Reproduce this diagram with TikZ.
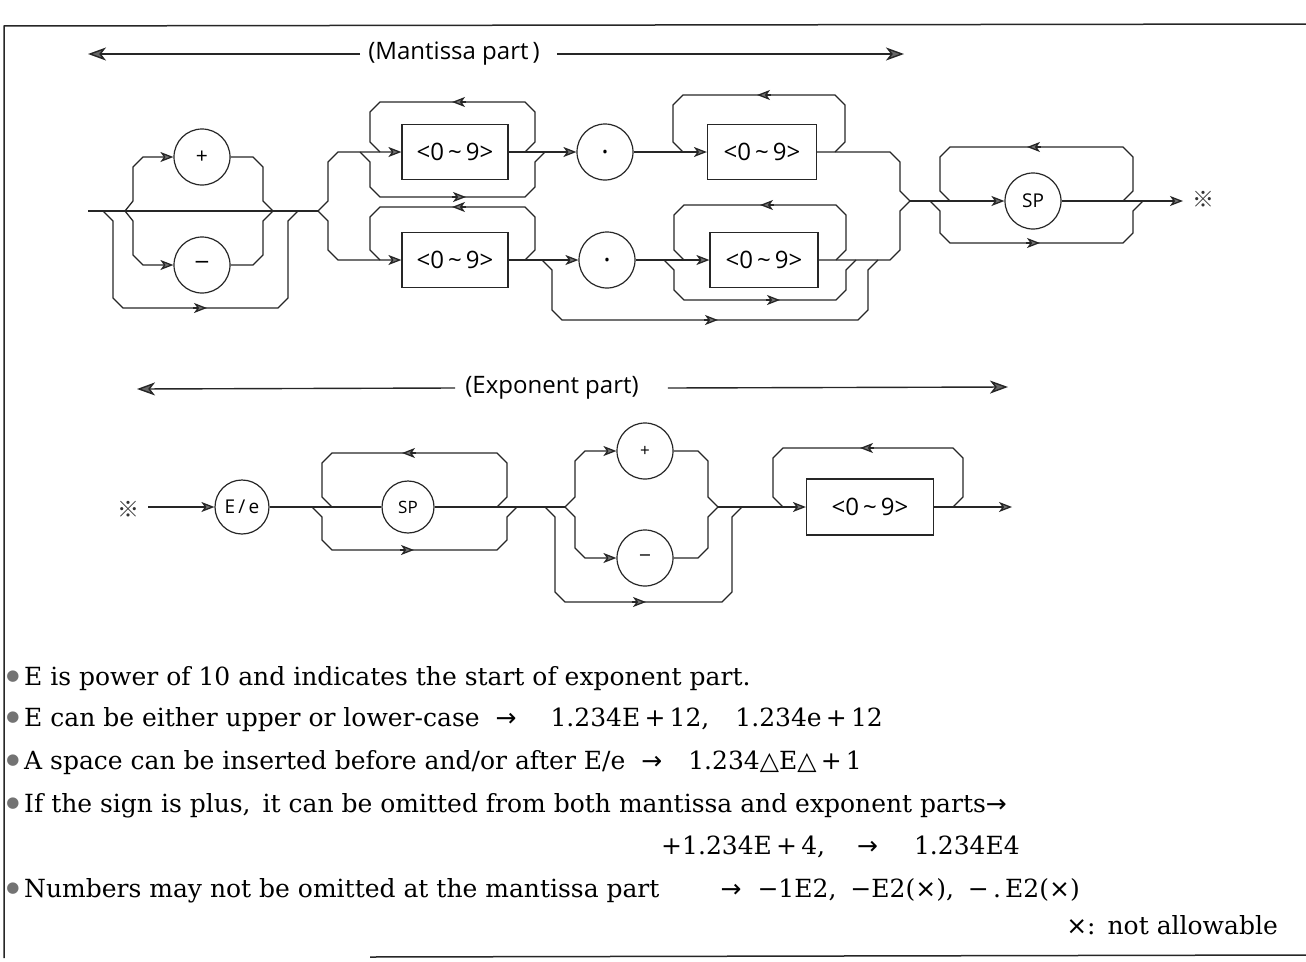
\documentclass[tikz,border=0pt]{standalone}
\usepackage{fontspec}
\setmainfont{DejaVu Serif}
\newfontfamily\diagfont{Open Sans}
\newfontfamily\symfont{DejaVu Sans}
\newfontfamily\cjkfont{Noto Sans CJK JP}
\usetikzlibrary{arrows.meta}
\newcommand\midR[2]{\draw[ar] (#1-14,#2) -- (#1,#2);}
\newcommand\midL[2]{\draw[ar] (#1+14,#2) -- (#1,#2);}
\begin{document}
\begin{tikzpicture}[x=1pt,y=-1pt,
  rr/.style={draw=black!85,line width=1.3pt},
  ar/.style={rr,-{Stealth[length=13pt,width=10pt,inset=3.5pt,fill=black!55]}},
  har/.style={draw=black!85,line width=1.4pt,-{Stealth[length=18pt,width=13pt,inset=5pt,fill=black!60]}},
  circ/.style={circle,draw=black!85,line width=1.2pt,inner sep=0pt,minimum size=#1},
  circ/.default=56pt,
  dbox/.style={draw=black!85,line width=1.2pt,inner sep=0pt,minimum height=55pt,minimum width=#1,font=\diagfont\fontsize{24}{24}\selectfont},
  hdr/.style={inner sep=0pt,font=\diagfont\fontsize{24}{24}\selectfont},
  lbl/.style={font=\diagfont\fontsize{#1}{#1}\selectfont},
  txt/.style={anchor=base west,inner sep=0pt,font=\fontsize{25}{30}\selectfont},
  bul/.style={anchor=center,inner sep=0pt,text=black!55,font=\symfont\fontsize{15}{15}\selectfont},
  refm/.style={inner sep=0pt,text=black!80,font=\cjkfont\fontsize{22}{22}\selectfont},
  frame/.style={draw=black!85,line width=1.5pt}]
\useasboundingbox (0,0) rectangle (1306,961);
% frame
\draw[frame] (4,958) -- (4,26) -- (1306,24);
\draw[frame] (370,957) -- (1306,955);

% ===== Mantissa header =====
\node[hdr] (mant) at (454,54) {(Mantissa part\,)};
\coordinate (mL) at (88,54);
\coordinate (mR) at (904,54);
\draw[har] ([xshift=-8pt]mant.west) -- (mL);
\draw[har] ([xshift=17pt]mant.east) -- (mR);

% ===== Mantissa diagram =====
\coordinate (mS) at (88,211);
\coordinate (msp) at (125,211);
\coordinate (msj) at (273,211);
\coordinate (ms2) at (318,211);
\node[circ,lbl=21] (mplus) at (202,157) {+};
\node[circ,lbl=20] (mminus) at (202,265) {\symfont −};
\draw[rr] (mS) -- (ms2);
\draw[ar] (msp) -- (133,201) -- (133,167) -- (143,157) -- (mplus.west);
\draw[ar] (msp) -- (133,221) -- (133,255) -- (143,265) -- (mminus.west);
\draw[rr] (mplus.east) -- (253,157) -- (263,167) -- (263,201) -- (msj);
\draw[rr] (mminus.east) -- (253,265) -- (263,255) -- (263,221) -- (msj);
\draw[rr] (103,211) -- (113,221) -- (113,298) -- (123,308) -- (278,308) -- (288,298) -- (288,221) -- (298,211);
\midR{207}{308}

\node[dbox=106pt] (box1) at (455,152) {<0\,\textasciitilde\,9>};
\node[dbox=106pt] (box2) at (455,260) {<0\,\textasciitilde\,9>};
\draw[ar] (ms2) -- (328,201) -- (328,162) -- (338,152) -- (box1.west);
\draw[ar] (ms2) -- (328,221) -- (328,250) -- (338,260) -- (box2.west);
% loop / bypass box1
\draw[rr] (380,152) -- (370,142) -- (370,112) -- (380,102) -- (525,102) -- (535,112) -- (535,142) -- (525,152);
\midL{452}{102}
\draw[rr] (360,152) -- (370,162) -- (370,187) -- (380,197) -- (525,197) -- (535,187) -- (535,162) -- (545,152);
\midR{466}{197}
% loop box2
\draw[rr] (380,260) -- (370,250) -- (370,217) -- (380,207) -- (525,207) -- (535,217) -- (535,250) -- (525,260);
\midL{452}{207}

% top row
\node[circ,lbl=28] (dot1) at (605,152) {.};
\node[dbox=109pt] (box3) at (762,152) {<0\,\textasciitilde\,9>};
\draw[ar] (box1.east) -- (dot1.west);
\draw[ar] (dot1.east) -- (box3.west);
\draw[rr] (683,152) -- (673,142) -- (673,105) -- (683,95) -- (835,95) -- (845,105) -- (845,142) -- (835,152);
\midL{757}{95}
\coordinate (mj) at (910,201);
\draw[rr] (box3.east) -- (890,152) -- (900,162) -- (900,191) -- (mj);

% bottom row
\node[circ,lbl=28] (dot2) at (607,260) {.};
\node[dbox=108pt] (box4) at (764,260) {<0\,\textasciitilde\,9>};
\draw[ar] (box2.east) -- (dot2.west);
\draw[ar] (dot2.east) -- (box4.west);
\draw[rr] (684,260) -- (674,250) -- (674,215) -- (684,205) -- (836,205) -- (846,215) -- (846,250) -- (836,260);
\midL{760}{205}
\draw[rr] (664,260) -- (674,270) -- (674,290) -- (684,300) -- (836,300) -- (846,290) -- (846,270) -- (856,260);
\midR{780}{300}
\draw[rr] (542,260) -- (552,270) -- (552,310) -- (562,320) -- (858,320) -- (868,310) -- (868,270) -- (878,260);
\midR{718}{320}
\draw[rr] (box4.east) -- (890,260) -- (900,250) -- (900,211) -- (mj);

% SP
\node[circ,lbl=19] (sp1) at (1033,201) {SP};
\draw[ar] (mj) -- (sp1.west);
\draw[rr] (950,201) -- (940,191) -- (940,157) -- (950,147) -- (1123,147) -- (1133,157) -- (1133,191) -- (1123,201);
\midL{1027}{147}
\draw[rr] (930,201) -- (940,211) -- (940,233) -- (950,243) -- (1123,243) -- (1133,233) -- (1133,211) -- (1143,201);
\midR{1040}{243}
\coordinate (mE) at (1183,201);
\draw[ar] (sp1.east) -- (mE);
\node[refm] (ref1) at (1203,199) {※};

% ===== Exponent header =====
\node[hdr] (expo) at (552,388) {(Exponent part)};
\coordinate (eL) at (137,389);
\coordinate (eR) at (1008,387);
\draw[har] ([xshift=-10pt]expo.west) -- (eL);
\draw[har] ([xshift=29pt]expo.east) -- (eR);

% ===== Exponent diagram =====
\node[refm] (ref2) at (128,509) {※};
\node[circ=54pt,lbl=19] (ee) at (242,507) {E\,/\,e};
\coordinate (eS) at (148,507);
\draw[ar] (eS) -- (ee.west);
\node[circ=52pt,lbl=17] (sp2) at (408,507) {SP};
\draw[rr] (ee.east) -- (sp2.west);
\draw[rr] (332,507) -- (322,497) -- (322,463) -- (332,453) -- (497,453) -- (507,463) -- (507,497) -- (497,507);
\midL{402}{453}
\draw[rr] (312,507) -- (322,517) -- (322,540) -- (332,550) -- (497,550) -- (507,540) -- (507,517) -- (517,507);
\midR{414}{550}
\coordinate (esp) at (565,507);
\coordinate (ej) at (718,507);
\draw[rr] (sp2.east) -- (esp);
\node[circ,lbl=17] (eplus) at (645,451) {+};
\node[circ,lbl=16] (eminus) at (645,558) {\symfont −};
\draw[ar] (esp) -- (575,497) -- (575,461) -- (585,451) -- (eplus.west);
\draw[ar] (esp) -- (575,517) -- (575,548) -- (585,558) -- (eminus.west);
\draw[rr] (eplus.east) -- (698,451) -- (708,461) -- (708,497) -- (ej);
\draw[rr] (eminus.east) -- (698,558) -- (708,548) -- (708,517) -- (ej);
\draw[rr] (545,507) -- (555,517) -- (555,592) -- (565,602) -- (722,602) -- (732,592) -- (732,517) -- (742,507);
\midR{646}{602}
\node[dbox=127pt,minimum height=56pt] (box5) at (870,507) {<0\,\textasciitilde\,9>};
\draw[ar] (ej) -- (box5.west);
\draw[rr] (783,507) -- (773,497) -- (773,458) -- (783,448) -- (953,448) -- (963,458) -- (963,497) -- (953,507);
\midL{860}{448}
\coordinate (eE) at (1012,507);
\draw[ar] (box5.east) -- (eE);

% ===== Notes =====
\node[bul] (b1) at (13,677) {●};
\node[txt] (t1) at (24,685) {E is power of 10 and indicates the start of exponent part.};
\node[bul] (b2) at (13,718) {●};
\node[txt] (t2) at (24,726) {E can be either upper or lower-case\hspace{16pt}{\symfont →}\hspace{34pt}1.234E\,+\,12,\hspace{26pt}1.234e\,+\,12};
\node[bul] (b3) at (13,761) {●};
\node[txt] (t3) at (24,769) {A space can be inserted before and/or after E/e\hspace{16pt}{\symfont →}\hspace{26pt}1.234{\symfont △}E{\symfont △}\,+\,1};
\node[bul] (b4) at (13,804) {●};
\node[txt] (t4) at (24,812) {If the sign is plus,\hspace{12pt}it can be omitted from both mantissa and exponent parts{\symfont →}};
\node[txt,anchor=base east] (t5) at (1020,854) {+1.234E\,+\,4,\hspace{32pt}{\symfont →}\hspace{36pt}1.234E4};
\node[bul] (b6) at (13,889) {●};
\node[txt] (t6) at (24,897) {Numbers may not be omitted at the mantissa part};
\node[txt,anchor=base east] (t6b) at (1080,897) {{\symfont →}\hspace{16pt}−1E2,\hspace{14pt}−E2({\symfont ×}),\hspace{14pt}−\,.\,E2({\symfont ×})};
\node[txt,anchor=base east] (t7) at (1278,934) {{\symfont ×}:\hspace{12pt}not allowable};
\end{tikzpicture}
\end{document}
